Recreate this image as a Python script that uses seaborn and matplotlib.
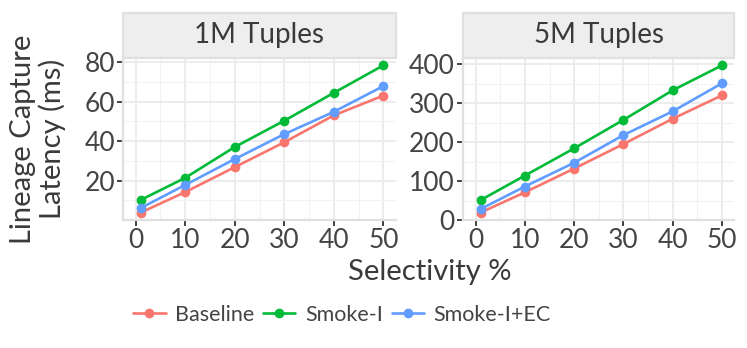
import numpy as np
import pandas as pd
import matplotlib
matplotlib.use("Agg")
import matplotlib.pyplot as plt
import seaborn as sns
from matplotlib.patches import Rectangle
from matplotlib.ticker import MultipleLocator

# --- DATA ---
selectivity = [1, 10, 20, 30, 40, 50]
systems = ["Baseline", "Smoke-I", "Smoke-I+EC"]
panels = ["1M Tuples", "5M Tuples"]

baseline_1m = [3.8, 14.2, 26.8, 39.4, 53.0, 63.0]
smoke_i_1m = [10.2, 21.4, 37.0, 50.3, 64.4, 78.3]
smoke_ec_1m = [6.1, 17.8, 30.9, 43.5, 54.8, 67.8]

baseline_5m = [19, 71, 132, 195, 260, 320]
smoke_i_5m = [51, 114, 184, 257, 333, 397]
smoke_ec_5m = [28, 86, 147, 218, 279, 351]

colors = ["#F8766D", "#00BA38", "#619CFF"]

rows = []
series = {
    "1M Tuples": [baseline_1m, smoke_i_1m, smoke_ec_1m],
    "5M Tuples": [baseline_5m, smoke_i_5m, smoke_ec_5m],
}
for panel in panels:
    for name, vals in zip(systems, series[panel]):
        for x, y in zip(selectivity, vals):
            rows.append({"Selectivity": x, "Latency": y, "System": name, "Panel": panel})
df = pd.DataFrame(rows)

# --- STYLE ---
sns.set_style("white")
plt.rcParams["font.family"] = ["Lato", "DejaVu Sans"]
text_col = "#444444"

g = sns.relplot(
    data=df, x="Selectivity", y="Latency", hue="System", col="Panel",
    kind="line", marker="o", markersize=7, markeredgewidth=0, linewidth=1.9,
    palette=colors, hue_order=systems, col_order=panels,
    facet_kws={"sharey": False, "sharex": True}, legend=False,
)
fig = g.figure
fig.set_size_inches(7.47, 3.48)
fig.set_dpi(100)

# --- AXES LAYOUT ---
positions = [
    [123.3 / 747, (348 - 220) / 348, 272.4 / 747, 162 / 348],
    [463.3 / 747, (348 - 220) / 348, 271.0 / 747, 162 / 348],
]
yticks = [[20, 40, 60, 80], [0, 100, 200, 300, 400]]
ysteps = [10, 50]

for ax, panel, pos, yt, step in zip(g.axes.flat, panels, positions, yticks, ysteps):
    ax.set_position(pos)
    vals = np.concatenate(series[panel])
    lo, hi = vals.min(), vals.max()
    pad = (hi - lo) * 0.05
    ax.set_ylim(lo - pad, hi + pad)
    ax.set_xlim(-2.5, 52.5)
    ax.set_xticks([0, 10, 20, 30, 40, 50])
    ax.set_yticks(yt)
    ax.xaxis.set_minor_locator(MultipleLocator(5))
    ax.yaxis.set_minor_locator(MultipleLocator(step))
    ax.grid(which="major", color="#EBEBEB", linewidth=1.3)
    ax.grid(which="minor", color="#F2F2F2", linewidth=0.8)
    ax.set_axisbelow(True)
    for s in ax.spines.values():
        s.set_color("#E0E0E0")
        s.set_linewidth(1.6)
    ax.tick_params(axis="both", which="major", length=4, width=1.3, color="#333333",
                   labelsize=19, labelcolor=text_col, pad=2, bottom=True, left=True)
    ax.tick_params(which="minor", length=0)
    ax.set_title("")
    ax.set_xlabel("")
    ax.set_ylabel("")

    # facet strip
    strip_h = 45 / 162
    ax.add_patch(Rectangle((0, 1.0), 1, strip_h, transform=ax.transAxes,
                           facecolor="#EEEEEE", edgecolor="#E0E0E0", linewidth=1.6,
                           clip_on=False))
    ax.text(0.5, 1.0 + strip_h / 2, panel, transform=ax.transAxes, ha="center",
            va="center", fontsize=20, color="#3A3A3A")

fig.text(430 / 747, 1 - 272 / 348, "Selectivity %", ha="center", va="center",
         fontsize=21, color="#3A3A3A")
fig.text(38 / 747, 1 - 139 / 348, "Lineage Capture\nLatency (ms)", ha="center",
         va="center", rotation=90, fontsize=21, color="#3A3A3A", linespacing=1.1)

handles = [plt.Line2D([], [], color=c, marker="o", markersize=7, markeredgewidth=0,
                      linewidth=1.9) for c in colors]
fig.legend(handles, systems, loc="center", bbox_to_anchor=(342 / 747, 1 - 315 / 348),
           ncol=3, frameon=False, fontsize=15.5, handlelength=1.5, handletextpad=0.45,
           columnspacing=0.4, labelcolor=text_col)

fig.savefig("out.png", dpi=100)
